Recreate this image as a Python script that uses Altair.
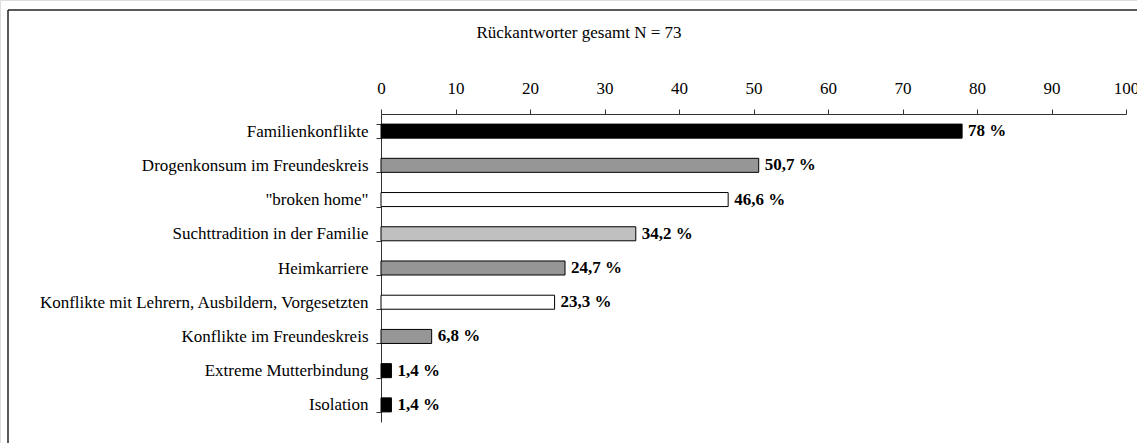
import altair as alt
import pandas as pd

categories = [
    "Familienkonflikte",
    "Drogenkonsum im Freundeskreis",
    "\"broken home\"",
    "Suchttradition in der Familie",
    "Heimkarriere",
    "Konflikte mit Lehrern, Ausbildern, Vorgesetzten",
    "Konflikte im Freundeskreis",
    "Extreme Mutterbindung",
    "Isolation",
]
values = [78.0, 50.7, 46.6, 34.2, 24.7, 23.3, 6.8, 1.4, 1.4]
bar_colors = ["#000000", "#969696", "#ffffff", "#c0c0c0", "#969696",
              "#ffffff", "#969696", "#000000", "#000000"]
x_ticks = [0, 10, 20, 30, 40, 50, 60, 70, 80, 90, 100]
title_text = "Rückantworter gesamt N = 73"

df = pd.DataFrame({
    "cat": categories,
    "val": values,
    "label": [f"{v:g}".replace(".", ",") + " %" for v in values],
})

FONT = "Liberation Serif"

xscale = alt.Scale(domain=[0, 100], range=[381, 1126], nice=False, zero=False)
yscale = alt.Scale(domain=categories, range=[114, 422], paddingInner=0.59, paddingOuter=0.295)

base = alt.Chart(df)

bars = base.mark_bar(stroke="#000000", strokeWidth=1).encode(
    x=alt.X("val:Q", scale=xscale, axis=alt.Axis(
        orient="top", offset=-114, values=x_ticks, title=None,
        domainColor="#333333", tickColor="#333333", tickSize=5,
        labelFont=FONT, labelFontSize=17, labelColor="#000000",
        labelPadding=12, grid=False, labelFlush=False, labelOverlap=False,
    )),
    y=alt.Y("cat:N", scale=yscale, sort=categories, axis=alt.Axis(
        orient="left", offset=-381, title=None, tickBand="extent",
        domainColor="#333333", tickColor="#333333", tickSize=5,
        labelFont=FONT, labelFontSize=17, labelColor="#000000",
        labelPadding=8, labelLimit=500, grid=False,
    )),
    fill=alt.Fill("cat:N", scale=alt.Scale(domain=categories, range=bar_colors), legend=None),
)

labels = base.mark_text(
    align="left", baseline="middle", dx=6, font=FONT, fontSize=17,
    fontWeight="bold", color="#000000",
).encode(
    x=alt.X("val:Q", scale=xscale),
    y=alt.Y("cat:N", scale=yscale, sort=categories),
    text="label:N",
)

title = alt.Chart(pd.DataFrame({"t": [title_text]})).mark_text(
    align="center", baseline="alphabetic", font=FONT, fontSize=17, color="#000000",
).encode(x=alt.value(579), y=alt.value(38), text="t:N")

frame_top = alt.Chart(pd.DataFrame({"a": [0]})).mark_rule(
    color="#222222", strokeWidth=1.5
).encode(x=alt.value(8), x2=alt.value(1137), y=alt.value(10))
frame_left = alt.Chart(pd.DataFrame({"a": [0]})).mark_rule(
    color="#222222", strokeWidth=1.5
).encode(x=alt.value(8), y=alt.value(10), y2=alt.value(443))

chart = alt.layer(bars, labels, title, frame_top, frame_left).properties(
    width=1137, height=443,
    autosize=alt.AutoSizeParams(type="none"),
    padding=0,
).configure_view(stroke=None).configure(background="#ffffff")

chart.save("out.html", embed_options={"renderer": "svg", "actions": False})
